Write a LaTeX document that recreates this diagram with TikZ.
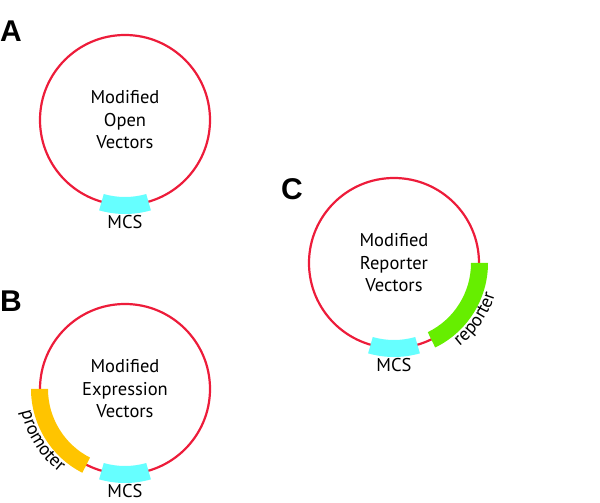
\documentclass[tikz,border=0pt]{standalone}
\usepackage{fontspec}
\setmainfont{PT Sans}
\newfontfamily\labfont{Liberation Sans}
\usetikzlibrary{calc,decorations.text}
\definecolor{plasred}{RGB}{237,28,58}
\definecolor{mcscyan}{RGB}{102,255,255}
\definecolor{promorange}{RGB}{255,196,0}
\definecolor{repgreen}{RGB}{102,238,0}
\newcommand\plasband[4]{\fill[#1] ($(#2)+(#3:94)$) arc[start angle=#3,end angle=#4,radius=94] -- ($(#2)+(#4:77)$) arc[start angle=#4,end angle=#3,radius=77] -- cycle;}
\begin{document}
\begin{tikzpicture}[x=1pt,y=1pt,
  plasmid/.style={circle, draw=plasred, line width=2.2pt, minimum size=170pt, inner sep=0pt, align=center, font=\fontsize{18.5}{22.5}\selectfont},
  panel/.style={font=\labfont\bfseries\fontsize{30}{30}\selectfont, inner sep=0pt, anchor=base west},
  mcslabel/.style={font=\fontsize{18.5}{20}\selectfont, inner sep=0pt, anchor=base},
  arclabel/.style={decorate, decoration={text along path, text align=center, text={|\fontsize{18.5}{20}\selectfont|#1}}}]
\useasboundingbox (0,0) rectangle (600,503);
% panel A
\node[panel] (labA) at (0,461) {A};
\node[plasmid] (A) at (125,383) {Modified\\Open\\Vectors};
\plasband{mcscyan}{A.center}{254}{286}
\node[mcslabel] (mcsA) at ($(A.center)+(0,-109)$) {MCS};
% panel B
\node[panel] (labB) at (0,191) {B};
\node[plasmid] (B) at (125,114) {Modified\\Expression\\Vectors};
\plasband{mcscyan}{B.center}{254}{286}
\plasband{promorange}{B.center}{180}{243}
\node[mcslabel] (mcsB) at ($(B.center)+(0,-109)$) {MCS};
\path[arclabel=promoter] ($(B.center)+(186:106)$) arc[start angle=186, end angle=238, radius=106];
% panel C
\node[panel] (labC) at (281,303) {C};
\node[plasmid] (C) at (394,240) {Modified\\Reporter\\Vectors};
\plasband{mcscyan}{C.center}{254}{286}
\plasband{repgreen}{C.center}{296}{360}
\node[mcslabel] (mcsC) at ($(C.center)+(0,-109)$) {MCS};
\path[arclabel=reporter] ($(C.center)+(304:106)$) arc[start angle=304, end angle=347, radius=106];
\end{tikzpicture}
\end{document}
